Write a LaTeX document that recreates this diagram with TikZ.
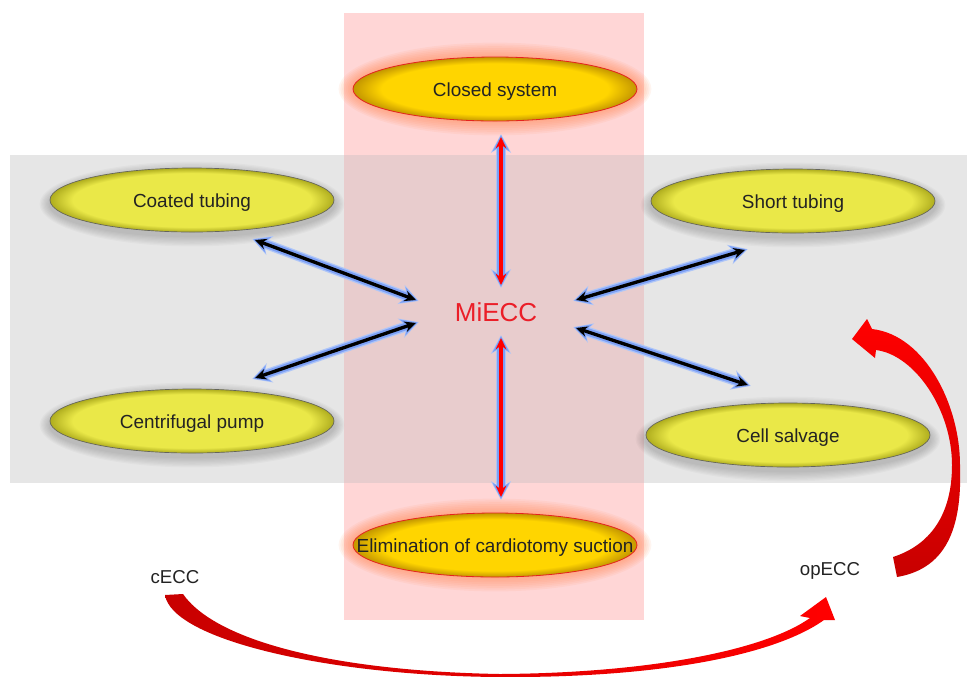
\documentclass[tikz,border=0pt]{standalone}
\usepackage{fontspec}
\setmainfont{Liberation Sans}
\usetikzlibrary{arrows.meta,shapes.geometric,calc}

\definecolor{graybg}{RGB}{230,230,230}
\definecolor{pinkbg}{RGB}{255,214,214}
\definecolor{mixbg}{RGB}{232,204,205}
\definecolor{gold}{RGB}{255,213,0}
\definecolor{golddark}{RGB}{195,150,0}
\definecolor{goldline}{RGB}{228,35,30}
\definecolor{yel}{RGB}{234,232,72}
\definecolor{yeldark}{RGB}{175,173,30}
\definecolor{yelline}{RGB}{100,100,90}
\definecolor{haloc}{RGB}{255,130,70}
\definecolor{txt}{RGB}{35,35,35}
\definecolor{miec}{RGB}{235,30,40}
\definecolor{glowc}{RGB}{125,160,245}
\definecolor{glowd}{RGB}{175,198,248}
\definecolor{redA}{RGB}{200,0,0}
\definecolor{redB}{RGB}{255,0,0}

\pgfdeclareradialshading{goldshade}{\pgfpoint{0bp}{0bp}}{color(0bp)=(gold); color(20bp)=(gold); color(25bp)=(golddark); color(50bp)=(golddark)}
\pgfdeclareradialshading{yelshade}{\pgfpoint{0bp}{0bp}}{color(0bp)=(yel); color(21bp)=(yel); color(25bp)=(yeldark); color(50bp)=(yeldark)}

\newcommand{\ellhalo}[5]{%
  \foreach \k in {1,...,8}{%
    \fill[#3, opacity=#4] (#1,#2) ellipse [x radius={(142+#5*\k)*0.75pt}, y radius={(32+#5*\k)*0.75pt}];}}

\tikzset{
  ellbase/.style={ellipse, inner sep=0pt, minimum width=213pt, minimum height=48pt,
    text height=11pt, text depth=0pt,
    text=txt, font=\fontsize{14.2}{17}\selectfont},
  goldell/.style={ellbase, shading=goldshade, draw=goldline, line width=0.6pt},
  yelell/.style={ellbase, shading=yelshade, draw=yelline, line width=0.5pt},
  lbl/.style={text=txt, font=\fontsize{14}{17}\selectfont},
  glowpre/.style={
    preaction={draw=glowd, line width=7.5pt, shorten <=-2.2pt, shorten >=-2.2pt,
      arrows={Stealth[length=14pt,width=15pt]-Stealth[length=14pt,width=15pt]}},
    preaction={draw=glowc, line width=5.5pt, shorten <=-1.4pt, shorten >=-1.4pt,
      arrows={Stealth[length=12pt,width=12.5pt]-Stealth[length=12pt,width=12.5pt]}}},
  blkarrow/.style={glowpre, draw=black, line width=2.5pt,
    arrows={Stealth[length=8.5pt,width=8pt]-Stealth[length=8.5pt,width=8pt]}},
  redarrow/.style={glowpre, draw=redB, line width=2.5pt,
    arrows={Stealth[length=8.5pt,width=8pt]-Stealth[length=8.5pt,width=8pt]}},
}

\begin{document}
\begin{tikzpicture}[x=0.75pt,y=-0.75pt]
\useasboundingbox (0,0) rectangle (967,676);
\fill[white] (0,0) rectangle (967,676);
% bands
\fill[graybg] (10,155) rectangle (967,483);
\fill[pinkbg] (344,13) rectangle (644,620);
\fill[mixbg] (344,155) rectangle (644,483);

% glows and shadows
\ellhalo{495}{89}{haloc}{0.08}{1.8}
\ellhalo{495}{545}{haloc}{0.08}{1.8}
\ellhalo{192}{204}{black}{0.022}{1.3}
\ellhalo{793}{205}{black}{0.022}{1.3}
\ellhalo{192}{425}{black}{0.022}{1.3}
\ellhalo{788}{439}{black}{0.022}{1.3}

% ellipses
\node[goldell] (closed) at (495,89) {Closed system};
\node[goldell] (elim) at (495,545) {\makebox[0pt][c]{Elimination of cardiotomy suction}};
\node[yelell] (coated) at (192,200) {Coated tubing};
\node[yelell] (short) at (793,201) {Short tubing};
\node[yelell] (pump) at (192,421) {Centrifugal pump};
\node[yelell] (salvage) at (788,435) {Cell salvage};

% centre and side labels
\node[text=miec, font=\fontsize{19.5}{23}\selectfont] (miecc) at (496,312) {MiECC};
\node[lbl] (cecc) at (175,577) {cECC};
\node[lbl] (opecc) at (830,571) {opECC};

% connectors
\draw[redarrow] ($(closed.center)+(6,48)$) -- ($(miecc.center)+(5,-27)$);
\draw[redarrow] ($(miecc.center)+(5,26)$) -- ($(elim.center)+(6,-48)$);
\draw[blkarrow] ($(coated.center)+(63,40)$) -- ($(miecc.center)+(-80,-12)$);
\draw[blkarrow] ($(pump.center)+(63,-43)$) -- ($(miecc.center)+(-80,11)$);
\draw[blkarrow] ($(short.center)+(-48,49)$) -- ($(miecc.center)+(80,-12)$);
\draw[blkarrow] ($(salvage.center)+(-40,-50)$) -- ($(miecc.center)+(80,16)$);

% big red curved arrows
\shade[left color=redA, right color=redB]
  (165,595) .. controls (172,640) and (330,676) .. (500,677)
  .. controls (660,678) and (775,655) .. (824,620)
  -- (835,620) -- (826,597) -- (800,616) -- (810,618)
  .. controls (765,650) and (650,673) .. (500,674)
  .. controls (330,671) and (215,640) .. (183,594) -- cycle;
\shade[bottom color=redA, top color=redB]
  (893,557) -- (897,577)
  .. controls (950,568) and (962,522) .. (960,465)
  .. controls (960,405) and (925,335) .. (872,329)
  -- (867,319) -- (852,339) -- (875,358) -- (876,350)
  .. controls (915,355) and (952,410) .. (952,465)
  .. controls (952,515) and (930,545) .. (893,557) -- cycle;
\end{tikzpicture}
\end{document}
